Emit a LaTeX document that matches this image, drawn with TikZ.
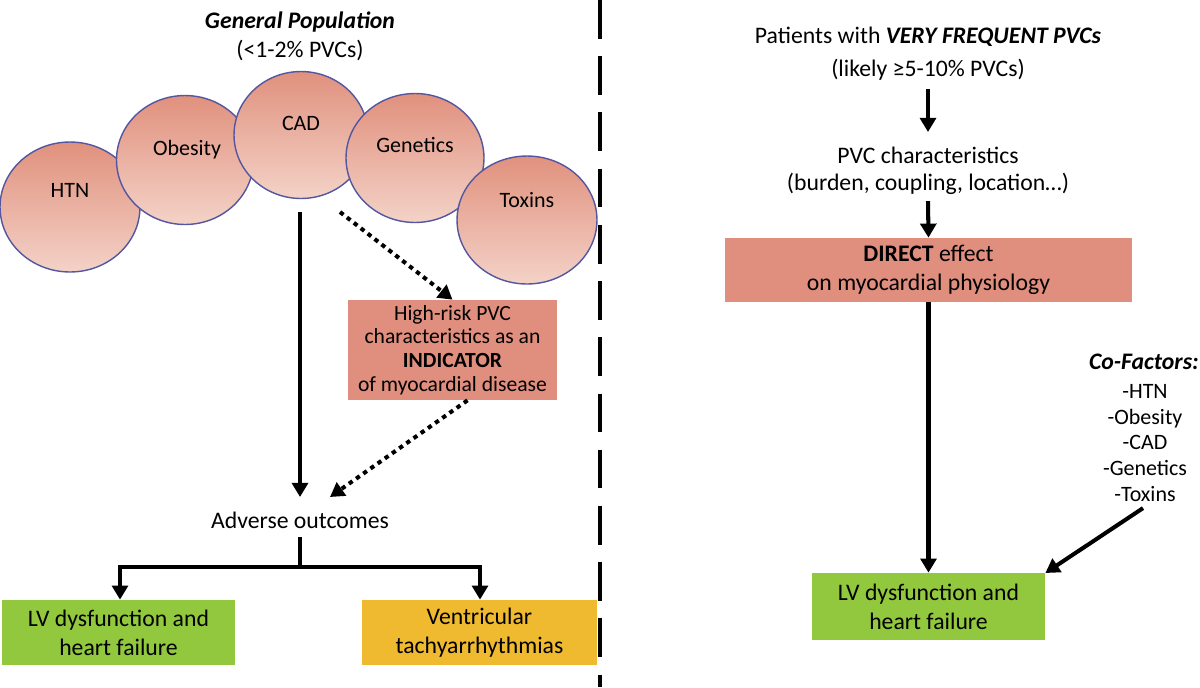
\documentclass[tikz,border=0pt]{standalone}
\usepackage{fontspec}
\setmainfont{Carlito}
\usetikzlibrary{arrows.meta,positioning,shapes.geometric}
\definecolor{ellTop}{HTML}{E0917D}
\definecolor{ellBot}{HTML}{F4D2C8}
\definecolor{ellLine}{HTML}{5356A0}
\definecolor{boxRed}{HTML}{E08E7E}
\definecolor{boxGreen}{HTML}{92C83E}
\definecolor{boxOrange}{HTML}{EFBA2F}
\tikzset{
  factor/.style={ellipse, draw=ellLine, line width=0.8pt, top color=ellTop, bottom color=ellBot, inner sep=0pt},
  redbox/.style={rectangle, fill=boxRed, inner sep=0pt},
  greenbox/.style={rectangle, fill=boxGreen, inner sep=0pt},
  orangebox/.style={rectangle, fill=boxOrange, inner sep=0pt},
  txt/.style={font=\fontsize{13.5}{16.5}\selectfont, align=center, inner sep=0pt},
  flow/.style={line width=2.3pt, -{Triangle[length=8pt,width=9pt]}},
  dotflow/.style={line width=2.3pt, dash pattern=on 2.5pt off 2.5pt, -{Triangle[length=8pt,width=9pt]}}
}
\begin{document}
\begin{tikzpicture}[x=0.02cm,y=-0.02cm]
\useasboundingbox (0,0) rectangle (1200,687);

% Left side
\node[txt] (gen) at (300,22) {\textbf{\textit{General Population}}};
\node[txt] (genr) at (300,50) {(<1-2\% PVCs)};

\node[factor, minimum width=2.8cm, minimum height=2.6cm] (htn) at (70,207) {};
\node[factor, minimum width=2.74cm, minimum height=2.58cm] (obes) at (185,160) {};
\node[factor, minimum width=2.68cm, minimum height=2.54cm] (cad) at (301,135) {};
\node[factor, minimum width=2.76cm, minimum height=2.58cm] (gene) at (415,158) {};
\node[factor, minimum width=2.8cm, minimum height=2.56cm] (tox) at (527,220) {};
\node[txt, font=\fontsize{12.5}{14}\selectfont] (htnl) at (70,190) {HTN};
\node[txt, font=\fontsize{12.5}{14}\selectfont] (obesl) at (187,150) {Obesity};
\node[txt, font=\fontsize{12.5}{14}\selectfont] (cadl) at (301,123) {CAD};
\node[txt, font=\fontsize{12.5}{14}\selectfont] (genel) at (415,145) {Genetics};
\node[txt, font=\fontsize{12.5}{14}\selectfont] (toxl) at (527,200) {Toxins};

\coordinate (srcA) at (300,212);
\coordinate (srcB) at (340,212);
\node[redbox, minimum width=4.18cm, minimum height=2cm] (risk) at (452.5,350) {};
\node[txt, font=\fontsize{12.3}{13.4}\selectfont] at (risk) {High-risk PVC\\characteristics as an\\\textbf{INDICATOR}\\of myocardial disease};
\node[txt] (adv) at (300,520) {Adverse outcomes};
\coordinate (advIn) at (330,497);

\draw[flow] (srcA) -- (300,497);
\draw[dotflow] (srcB) -- (risk.north);
\draw[dotflow] (risk.south) ++(15,0) -- (advIn);

\node[greenbox, minimum width=4.66cm, minimum height=1.3cm] (lvA) at (118.5,632.5) {};
\node[txt] at (lvA) {LV dysfunction and\\heart failure};
\node[orangebox, minimum width=4.7cm, minimum height=1.3cm] (vt) at (479.5,632.5) {};
\node[txt] at (vt) {Ventricular\\tachyarrhythmias};

\coordinate (split) at (300,567);
\draw[line width=2.3pt] (300,537) -- (split);
\draw[flow] (split) -| (lvA.north -| 120,0);
\draw[flow] (split) -| (vt.north -| 480,0);

% Divider
\draw[line width=2.5pt, dash pattern=on 22pt off 10pt] (600,0) -- (600,687);

% Right side
\node[txt] (pat) at (928,37) {Patients with \textbf{\textit{VERY FREQUENT PVCs}}};
\node[txt] (patr) at (928,70) {(likely ≥5-10\% PVCs)};
\node[txt] (pvc) at (928,155) {PVC characteristics};
\node[txt] (pvcr) at (928,184) {(burden, coupling, location…)};
\node[redbox, minimum width=8.14cm, minimum height=1.28cm] (direct) at (928.5,270) {};
\node[txt] at (direct) {\textbf{DIRECT} effect\\on myocardial physiology};
\node[greenbox, minimum width=4.66cm, minimum height=1.34cm] (lvB) at (928.5,606.5) {};
\node[txt] at (lvB) {LV dysfunction and\\heart failure};

\node[txt, anchor=east] (cof) at (1199,362) {\textbf{\textit{Co-Factors:}}};
\node[txt, font=\fontsize{12.5}{14.7}\selectfont] (cofl) at (1145,443) {-HTN\\-Obesity\\-CAD\\-Genetics\\-Toxins};

\draw[flow] (patr.south) ++(0,8) -- (928,132);
\draw[flow] (pvcr.south) ++(0,6) -- (direct.north);
\draw[flow] (direct.south) -- (lvB.north);
\draw[flow] (cofl.south) ++(-2,6) -- (lvB.east |- 0,573);
\end{tikzpicture}
\end{document}
